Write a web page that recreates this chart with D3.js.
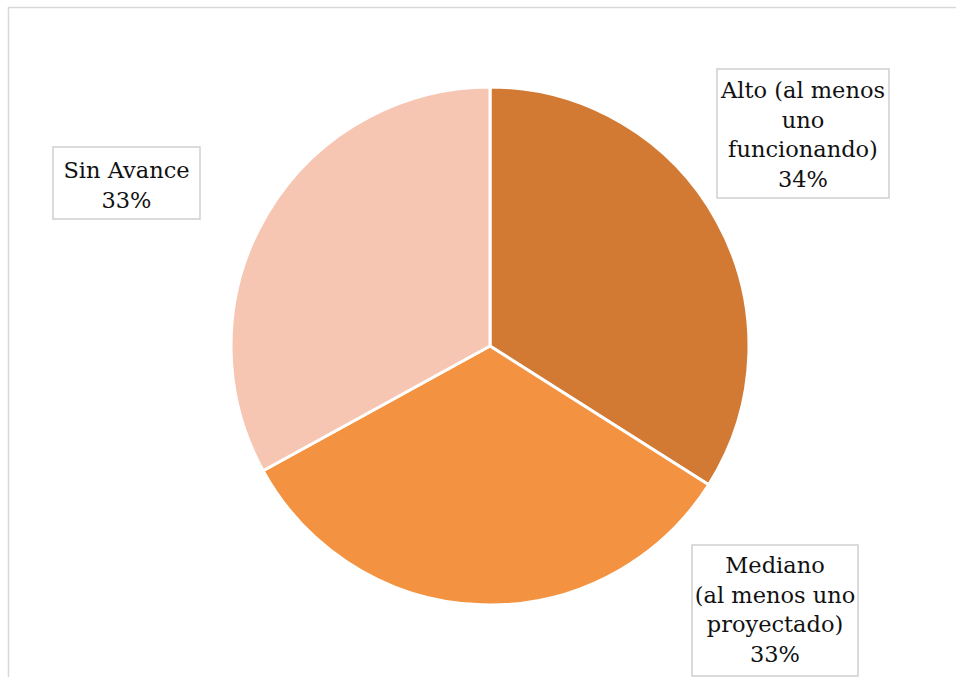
<!DOCTYPE html>
<html>
<head>
<meta charset="utf-8">
<script src="https://cdn.jsdelivr.net/npm/d3@7"></script>
<style>
  html, body { margin: 0; padding: 0; background: #ffffff; }
  svg { display: block; }
</style>
</head>
<body>
<svg id="chart" width="956" height="677"></svg>
<script>
// Categories, values (percent) and slice colours
const categories = ["Alto (al menos uno funcionando)", "Mediano (al menos uno proyectado)", "Sin Avance"];
const values = [34, 33, 33];
const colors = ["#D27A34", "#F39341", "#F6C6B2"];

// Wrapped label lines for each category
const labelLines = [
  ["Alto (al menos", "uno", "funcionando)"],
  ["Mediano", "(al menos uno", "proyectado)"],
  ["Sin Avance"]
];

// Label box placement (x0, y0, x1, y1) and first baseline
const labelBoxes = [
  { x0: 717, y0: 69, x1: 889, y1: 198, base: 98 },
  { x0: 692, y0: 545, x1: 858, y1: 676, base: 573 },
  { x0: 53, y0: 147, x1: 200, y1: 219, base: 178 }
];

const svg = d3.select("#chart");
const cx = 490, cy = 346, radius = 259;
const lineH = 29.5;

// Chart area frame
svg.append("rect")
  .attr("x", 8.5).attr("y", 7.5)
  .attr("width", 970).attr("height", 700)
  .attr("fill", "none")
  .attr("stroke", "#d9d9d9")
  .attr("stroke-width", 1.5);

const data = categories.map((c, i) => ({ name: c, value: values[i], color: colors[i], lines: labelLines[i], box: labelBoxes[i] }));

const pie = d3.pie().sort(null).value(d => d.value).startAngle(0).endAngle(2 * Math.PI);
const arc = d3.arc().innerRadius(0).outerRadius(radius);

const g = svg.append("g").attr("transform", `translate(${cx},${cy})`);
g.selectAll("path")
  .data(pie(data))
  .join("path")
  .attr("d", arc)
  .attr("fill", d => d.data.color)
  .attr("stroke", "#ffffff")
  .attr("stroke-width", 3)
  .attr("stroke-linejoin", "round");

// Data labels with boxes
const total = d3.sum(values);
const lbl = svg.selectAll("g.lbl").data(data).join("g").attr("class", "lbl");
lbl.append("rect")
  .attr("x", d => d.box.x0).attr("y", d => d.box.y0)
  .attr("width", d => d.box.x1 - d.box.x0).attr("height", d => d.box.y1 - d.box.y0)
  .attr("fill", "#ffffff")
  .attr("stroke", "#cfcfcf")
  .attr("stroke-width", 1.5);
lbl.each(function(d) {
  const sel = d3.select(this);
  const lines = d.lines.concat([d3.format(".0%")(d.value / total)]);
  const mid = (d.box.x0 + d.box.x1) / 2;
  lines.forEach((t, i) => {
    sel.append("text")
      .attr("x", mid)
      .attr("y", d.box.base + i * lineH)
      .attr("text-anchor", "middle")
      .attr("font-family", "'DejaVu Serif', serif")
      .attr("font-size", 22.5)
      .attr("fill", "#111111")
      .text(t);
  });
});
</script>
</body>
</html>
